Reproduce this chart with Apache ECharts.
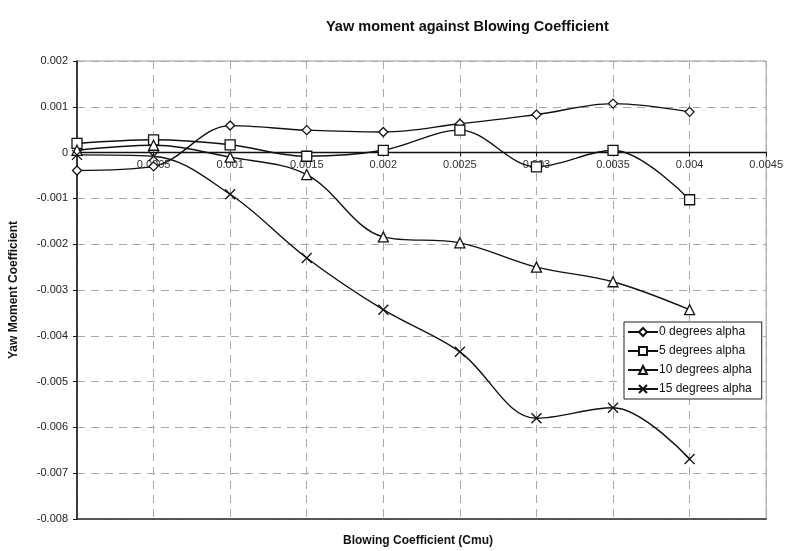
<!DOCTYPE html>
<html>
<head>
<meta charset="utf-8">
<script src="https://cdn.jsdelivr.net/npm/echarts@6/dist/echarts.min.js"></script>
<style>
  html, body { margin: 0; padding: 0; background: #fff; }
  #chart { width: 786px; height: 551px; }
</style>
</head>
<body>
<div id="chart"></div>
<script>
// blowing coefficient values (x)
const cmu = [0, 0.0005, 0.001, 0.0015, 0.002, 0.0025, 0.003, 0.0035, 0.004];

// yaw moment coefficient per angle of attack
const alpha0 = [-0.00039, -0.0003, 0.00059, 0.00049, 0.00045, 0.00063, 0.00083, 0.00107, 0.00089];
const alpha5 = [0.0002, 0.00028, 0.00017, -0.00008, 0.00005, 0.00049, -0.00031, 0.00005, -0.00103];
const alpha10 = [0.00005, 0.00016, -0.0001, -0.00048, -0.00184, -0.00197, -0.0025, -0.00282, -0.00343];
const alpha15 = [-0.00005, -0.00008, -0.00091, -0.0023, -0.00343, -0.00435, -0.0058, -0.00557, -0.00669];

const seriesNames = ['0 degrees alpha', '5 degrees alpha', '10 degrees alpha', '15 degrees alpha'];

const font = 'Liberation Sans, Arial, sans-serif';

function pairs(ys){
    let out = [];
    for(let i = 0; i < cmu.length; i++){
        out.push([cmu[i], ys[i]]);
    }
    return out;
}

function makeSeries(name, ys, symbol, size){
    return {
        name: name,
        type: 'line',
        smooth: 0.35,
        data: pairs(ys),
        symbol: symbol,
        symbolSize: size,
        showAllSymbol: true,
        lineStyle: { color: '#111', width: 1.4 },
        itemStyle: { color: '#fff', borderColor: '#111', borderWidth: 1.3 },
        emphasis: { disabled: true },
        z: 3
    };
}

const chart = echarts.init(document.getElementById('chart'));

// grid geometry: zero line sits 2/10 of the way down the plot
const gridTop = 61, gridBottom = 32, plotH = 551 - gridTop - gridBottom;
const zeroOffset = -(plotH * 0.8);

const option = {
    backgroundColor: '#fff',
    animation: false,
    textStyle: { fontFamily: font },
    title: {
        text: 'Yaw moment against Blowing Coefficient',
        left: 321,
        top: 14,
        textStyle: { fontSize: 14.5, fontWeight: 'bold', color: '#111', fontFamily: font }
    },
    grid: {
        left: 77, top: gridTop, right: 18, bottom: gridBottom,
        show: true,
        borderColor: '#999',
        borderWidth: 1
    },
    legend: {
        orient: 'vertical',
        left: 624,
        top: 322,
        padding: [4, 10, 4, 3],
        itemGap: 7,
        itemWidth: 30,
        itemHeight: 10,
        borderColor: '#222',
        borderWidth: 1,
        backgroundColor: '#fff',
        data: seriesNames,
        textStyle: { fontSize: 12, color: '#111', fontFamily: font, padding: [0, 0, 0, -4] }
    },
    xAxis: [{
        // bottom edge of plot (dark frame line)
        type: 'value',
        min: 0,
        max: 0.0045,
        interval: 0.0005,
        axisLine: { onZero: false, lineStyle: { color: '#333', width: 1.5 } },
        axisTick: { show: false },
        axisLabel: { show: false },
        splitLine: { show: true, lineStyle: { color: '#aaa', type: [8, 6], width: 1 } }
    }, {
        // labelled axis running along y = 0
        type: 'value',
        position: 'bottom',
        offset: zeroOffset,
        min: 0,
        max: 0.0045,
        interval: 0.0005,
        axisLine: { onZero: false, lineStyle: { color: '#111', width: 1.3 } },
        axisTick: { show: true, length: 4, lineStyle: { color: '#111' } },
        axisLabel: {
            showMinLabel: false,
            fontSize: 11,
            color: '#333',
            margin: 7,
            fontFamily: font
        },
        splitLine: { show: false }
    }],
    yAxis: {
        type: 'value',
        min: -0.008,
        max: 0.002,
        interval: 0.001,
        name: 'Yaw Moment Coefficient',
        nameLocation: 'middle',
        nameGap: 57,
        nameTextStyle: { fontSize: 12, fontWeight: 'bold', color: '#111', fontFamily: font },
        axisLine: { show: true, onZero: false, lineStyle: { color: '#111', width: 1.5 } },
        axisTick: { show: true, length: 4, lineStyle: { color: '#111' } },
        axisLabel: { fontSize: 11, color: '#222', margin: 9, fontFamily: font },
        splitLine: { show: true, lineStyle: { color: '#aaa', type: [8, 6], width: 1 } }
    },
    graphic: [{
        type: 'text',
        left: 343,
        top: 535,
        style: {
            text: 'Blowing Coefficient (Cmu)',
            fontSize: 12,
            fontWeight: 'bold',
            fill: '#111',
            fontFamily: font
        }
    }],
    series: [
        makeSeries(seriesNames[0], alpha0, 'diamond', 9),
        makeSeries(seriesNames[1], alpha5, 'rect', 10),
        makeSeries(seriesNames[2], alpha10, 'triangle', 10),
        makeSeries(seriesNames[3], alpha15, 'path://M0,0L10,10M10,0L0,10', 10)
    ]
};

chart.setOption(option);
</script>
</body>
</html>
